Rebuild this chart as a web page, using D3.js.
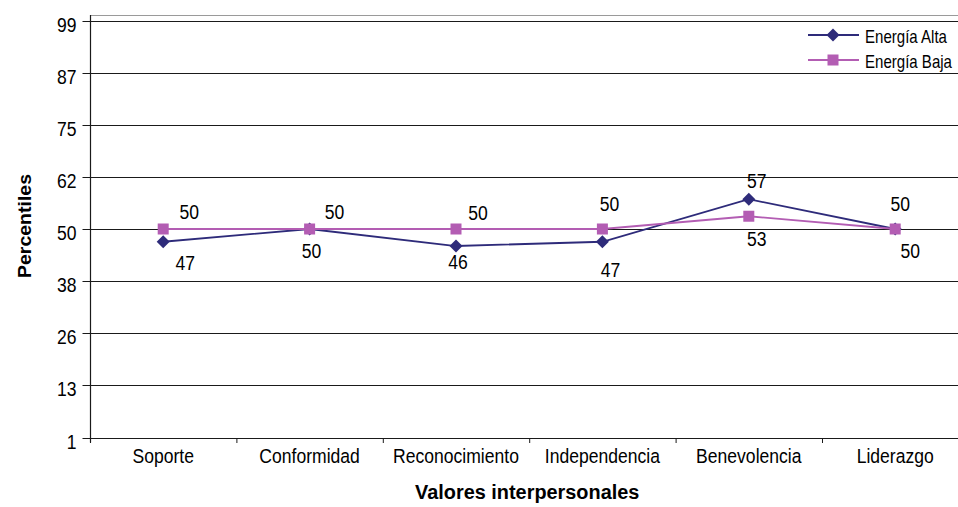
<!DOCTYPE html>
<html>
<head>
<meta charset="utf-8">
<script src="https://cdn.jsdelivr.net/npm/d3@7"></script>
<style>
  html, body { margin: 0; padding: 0; background: #fff; }
  svg { display: block; font-family: "Liberation Sans", Arial, Helvetica, sans-serif; }
</style>
</head>
<body>
<svg id="chart" width="958" height="507"></svg>
<script>
// ---- data ----
const categories = ["Soporte", "Conformidad", "Reconocimiento", "Independencia", "Benevolencia", "Liderazgo"];
const energiaAlta = [47, 50, 46, 47, 57, 50];
const energiaBaja = [50, 50, 50, 50, 53, 50];
const seriesNames = ["Energía Alta", "Energía Baja"];
const yTickValues = [1, 13.25, 25.5, 37.75, 50, 62.25, 74.5, 86.75, 99];
const yTickLabels = ["1", "13", "26", "38", "50", "62", "75", "87", "99"];
const xTitle = "Valores interpersonales";
const yTitle = "Percentiles";

// ---- layout ----
const plotLeft = 90, plotRight = 968.4, plotTop = 20.5, plotBottom = 437.5;
const colors = ["#2E2B7A", "#B35DB3"];
const fontSize = 19.5;
const textScaleX = 0.9;

const svg = d3.select("#chart");

const x = d3.scaleBand().domain(categories).range([plotLeft, plotRight]).padding(0);
const xIdx = d3.scaleLinear().domain([0, categories.length]).range([plotLeft, plotRight]);
const y = d3.scaleLinear().domain([1, 99]).range([plotBottom, plotTop]);

// plot frame top edge
svg.append("line")
  .attr("x1", plotLeft).attr("x2", 958).attr("y1", 15.5).attr("y2", 15.5)
  .attr("stroke", "#9a9a9a").attr("stroke-width", 1);

// horizontal gridlines
svg.append("g")
  .selectAll("line")
  .data(yTickValues.slice(1))
  .join("line")
  .attr("x1", plotLeft).attr("x2", plotRight)
  .attr("y1", d => Math.round(y(d)) + 0.5)
  .attr("y2", d => Math.round(y(d)) + 0.5)
  .attr("stroke", "#1a1a1a").attr("stroke-width", 1);

// y axis
const yAxis = svg.append("g")
  .attr("transform", `translate(${plotLeft + 0.5},0)`)
  .call(d3.axisLeft(y)
    .tickValues(yTickValues)
    .tickSize(8)
    .tickFormat((d, i) => yTickLabels[i]));
yAxis.select(".domain").remove();
yAxis.selectAll(".tick").attr("transform", d => `translate(0,${Math.round(y(d)) + 0.5})`);
yAxis.selectAll(".tick line").attr("stroke", "#1a1a1a");
yAxis.selectAll(".tick text")
  .attr("x", null).attr("dy", null)
  .attr("transform", `translate(-14,10) scale(${textScaleX},1)`)
  .attr("text-anchor", "end")
  .attr("font-family", null)
  .attr("font-size", fontSize)
  .attr("fill", "#000");

// left axis line
svg.append("line")
  .attr("x1", plotLeft + 0.5).attr("x2", plotLeft + 0.5)
  .attr("y1", 15).attr("y2", plotBottom + 5)
  .attr("stroke", "#1a1a1a").attr("stroke-width", 1.2);

// x axis: boundary ticks
const xAxis = svg.append("g")
  .attr("transform", `translate(0,${plotBottom + 0.5})`)
  .call(d3.axisBottom(xIdx)
    .tickValues(d3.range(categories.length + 1))
    .tickSize(5)
    .tickSizeOuter(0)
    .tickFormat(""));
xAxis.select(".domain").attr("stroke", "#1a1a1a").attr("stroke-width", 1.2);
xAxis.selectAll(".tick line").attr("stroke", "#1a1a1a");

// category labels
svg.append("g")
  .selectAll("text")
  .data(categories)
  .join("text")
  .attr("transform", d => `translate(${x(d) + x.bandwidth() / 2},463) scale(${textScaleX},1)`)
  .attr("text-anchor", "middle")
  .attr("font-size", fontSize)
  .attr("fill", "#000")
  .text(d => d);

// axis titles
svg.append("text")
  .attr("transform", `translate(${(plotLeft + plotRight) / 2 - 2},499) scale(0.97,1)`)
  .attr("text-anchor", "middle")
  .attr("font-size", 20.5)
  .attr("font-weight", "bold")
  .attr("fill", "#000")
  .text(xTitle);

svg.append("text")
  .attr("transform", `translate(31,${(plotTop + plotBottom) / 2 - 3}) rotate(-90) scale(1,${textScaleX})`)
  .attr("text-anchor", "middle")
  .attr("font-size", 19.5)
  .attr("font-weight", "bold")
  .attr("fill", "#000")
  .text(yTitle);

// ---- series ----
const series = [
  { name: seriesNames[0], values: energiaAlta, color: colors[0], marker: "diamond" },
  { name: seriesNames[1], values: energiaBaja, color: colors[1], marker: "square" }
];

const cx = c => x(c) + x.bandwidth() / 2;
const line = d3.line().x((d, i) => cx(categories[i])).y(d => y(d));

const diamondPath = "M0,-6.5L6.5,0L0,6.5L-6.5,0Z";
function drawMarker(g, kind, color) {
  if (kind === "diamond") {
    g.append("path").attr("d", diamondPath).attr("fill", color);
  } else {
    g.append("rect").attr("x", -5.5).attr("y", -5.5).attr("width", 11).attr("height", 11).attr("fill", color);
  }
}

// value label offsets (dx, baseline dy) per series, per category
const labelOffsets = [
  [[22, 28], [2, 29], [2, 23], [8, 35], [8, -11], [15, 29]],
  [[26, -10], [25, -10], [22, -9], [7, -18], [8, 30], [5, -18]]
];

series.forEach((s) => {
  const g = svg.append("g");
  g.append("path")
    .datum(s.values)
    .attr("d", line)
    .attr("fill", "none")
    .attr("stroke", s.color)
    .attr("stroke-width", 1.8);
  s.values.forEach((v, i) => {
    const m = g.append("g").attr("transform", `translate(${cx(categories[i])},${y(v)})`);
    drawMarker(m, s.marker, s.color);
  });
});

// value labels drawn on top
series.forEach((s, si) => {
  svg.append("g")
    .selectAll("text")
    .data(s.values)
    .join("text")
    .attr("transform", (v, i) => {
      const [dx, dy] = labelOffsets[si][i];
      return `translate(${cx(categories[i]) + dx},${y(v) + dy}) scale(${textScaleX},1)`;
    })
    .attr("text-anchor", "middle")
    .attr("font-size", fontSize)
    .attr("fill", "#000")
    .text(v => v);
});

// ---- legend ----
const legend = svg.append("g").attr("transform", "translate(808,35)");
series.forEach((s, si) => {
  const row = legend.append("g").attr("transform", `translate(0,${si * 25})`);
  row.append("line")
    .attr("x1", 0).attr("x2", 51).attr("y1", 0).attr("y2", 0)
    .attr("stroke", s.color).attr("stroke-width", 1.8);
  const m = row.append("g").attr("transform", "translate(25,0)");
  drawMarker(m, s.marker, s.color);
  row.append("text")
    .attr("transform", "translate(57,7.5) scale(0.86,1)")
    .attr("font-size", 17.5)
    .attr("fill", "#000")
    .text(s.name);
});
</script>
</body>
</html>
